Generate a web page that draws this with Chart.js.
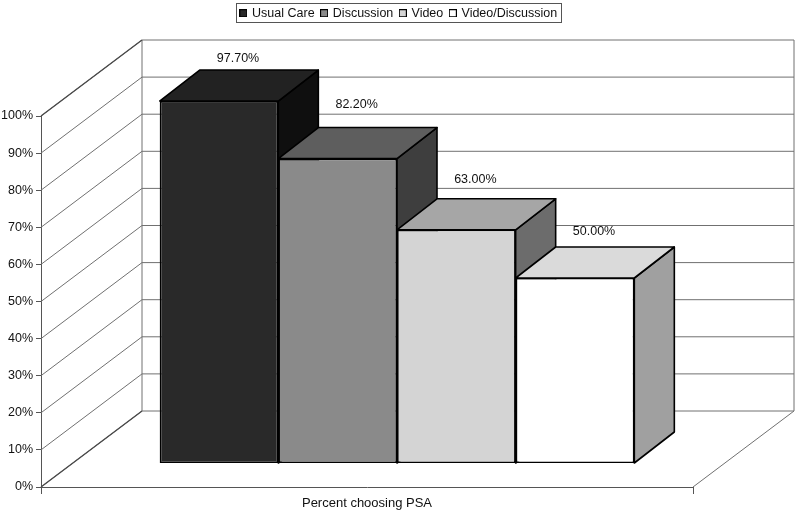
<!DOCTYPE html>
<html>
<head>
<meta charset="utf-8">
<style>html,body{margin:0;padding:0;background:#fff}canvas{display:block}</style>
<script src="https://cdn.jsdelivr.net/npm/chart.js@4/dist/chart.umd.min.js"></script>
</head>
<body>
<canvas id="c" width="796" height="513"></canvas>
<script>
const categories = ['Percent choosing PSA'];
const seriesNames = ['Usual Care', 'Discussion', 'Video', 'Video/Discussion'];
const usualCare = [97.7];
const discussion = [82.2];
const video = [63.0];
const videoDiscussion = [50.0];
const frontColors = ['#292929', '#8a8a8a', '#d4d4d4', '#ffffff'];
const topColors = ['#222222', '#5e5e5e', '#a6a6a6', '#dadada'];
const sideColors = ['#0f0f0f', '#3e3e3e', '#6c6c6c', '#a0a0a0'];
const labelLift = [42, 54, 50, 46];

const FONT = '"Liberation Sans", Arial, sans-serif';
const WALL = {dx: 101, dy: 76};
const BAR_OFFSET = {dx: 30, dy: 23.5};
const BAR_DEPTH = {dx: 40, dy: 31};

function swatch(color) {
  const s = document.createElement('canvas');
  s.width = 8; s.height = 8;
  const g = s.getContext('2d');
  g.fillStyle = color;
  g.fillRect(0, 0, 8, 8);
  g.strokeStyle = '#000';
  g.lineWidth = 1;
  g.strokeRect(0.5, 0.5, 7, 7);
  return s;
}

const scene = {
  id: 'scene',
  afterLayout(chart) {
    const lg = chart.legend;
    const shift = (chart.width - (lg.left + lg.right)) / 2 + 1;
    lg.left += shift;
    lg.right += shift;
    lg.top = 0;
    lg.bottom = lg.height;
  },
  beforeDatasetsDraw(chart) {
    const {ctx, chartArea: a, scales: {y}} = chart;
    ctx.save();
    ctx.strokeStyle = '#707070';
    ctx.lineWidth = 1;
    y.ticks.forEach(t => {
      const p = y.getPixelForValue(t.value);
      ctx.beginPath();
      ctx.moveTo(a.left, p);
      ctx.lineTo(a.left + WALL.dx, p - WALL.dy);
      ctx.lineTo(a.right + WALL.dx, p - WALL.dy);
      ctx.stroke();
    });
    const bottom = y.getPixelForValue(0), top = y.getPixelForValue(100);
    ctx.beginPath();
    ctx.moveTo(a.left + WALL.dx, top - WALL.dy);
    ctx.lineTo(a.left + WALL.dx, bottom - WALL.dy);
    ctx.moveTo(a.right + WALL.dx, top - WALL.dy);
    ctx.lineTo(a.right + WALL.dx, bottom - WALL.dy);
    ctx.lineTo(a.right, bottom);
    ctx.stroke();
    ctx.strokeStyle = '#4a4a4a';
    ctx.lineWidth = 1.3;
    [0, 100].forEach(v => {
      const p = y.getPixelForValue(v);
      ctx.beginPath();
      ctx.moveTo(a.left, p);
      ctx.lineTo(a.left + WALL.dx, p - WALL.dy);
      ctx.stroke();
    });
    ctx.restore();
  },
  beforeDatasetDraw() { return false; },
  afterDatasetsDraw(chart) {
    const {ctx} = chart;
    chart.data.datasets.forEach((ds, i) => {
      chart.getDatasetMeta(i).data.forEach(bar => {
        const {x, y, base, width} = bar.getProps(['x', 'y', 'base', 'width'], true);
        const l = x - width / 2, r = x + width / 2;
        ctx.save();
        ctx.translate(BAR_OFFSET.dx, -BAR_OFFSET.dy);
        ctx.strokeStyle = '#000';
        ctx.lineWidth = 1.6;
        ctx.lineJoin = 'round';
        ctx.fillStyle = sideColors[i];
        ctx.beginPath();
        ctx.moveTo(r, y);
        ctx.lineTo(r + BAR_DEPTH.dx, y - BAR_DEPTH.dy);
        ctx.lineTo(r + BAR_DEPTH.dx, base - BAR_DEPTH.dy);
        ctx.lineTo(r, base);
        ctx.closePath();
        ctx.fill();
        ctx.stroke();
        ctx.fillStyle = topColors[i];
        ctx.beginPath();
        ctx.moveTo(l, y);
        ctx.lineTo(l + BAR_DEPTH.dx, y - BAR_DEPTH.dy);
        ctx.lineTo(r + BAR_DEPTH.dx, y - BAR_DEPTH.dy);
        ctx.lineTo(r, y);
        ctx.closePath();
        ctx.fill();
        ctx.stroke();
        bar.draw(ctx);
        ctx.restore();
      });
    });
    chart.data.datasets.forEach((ds, i) => {
      chart.getDatasetMeta(i).data.forEach((bar, j) => {
        const {x, y} = bar.getProps(['x', 'y'], true);
        ctx.save();
        ctx.fillStyle = '#111';
        ctx.font = '12.5px ' + FONT;
        ctx.textAlign = 'center';
        ctx.textBaseline = 'middle';
        ctx.fillText(ds.data[j].toFixed(2) + '%', x + BAR_OFFSET.dx + 19, y - BAR_OFFSET.dy - labelLift[i]);
        ctx.restore();
      });
    });
  },
  afterDraw(chart) {
    const {ctx} = chart;
    ctx.save();
    ctx.strokeStyle = '#555';
    ctx.lineWidth = 1;
    ctx.strokeRect(236.5, 3.5, 325, 19);
    ctx.restore();
  }
};

const seriesValues = [usualCare, discussion, video, videoDiscussion];
new Chart(document.getElementById('c'), {
  type: 'bar',
  data: {
    labels: categories,
    datasets: seriesNames.map((name, i) => ({
      label: name,
      data: seriesValues[i],
      backgroundColor: frontColors[i],
      borderColor: '#000',
      borderWidth: 1.6,
      borderSkipped: false
    }))
  },
  options: {
    responsive: false,
    animation: false,
    layout: {padding: {top: 86.5, right: 103, left: 0, bottom: 0}},
    datasets: {bar: {categoryPercentage: 0.728, barPercentage: 1}},
    plugins: {
      tooltip: {enabled: false},
      title: {display: false},
      legend: {
        display: true,
        position: 'top',
        labels: {
          usePointStyle: true,
          pointStyleWidth: 5,
          boxHeight: 8,
          padding: 7,
          color: '#111',
          font: {family: FONT, size: 12.5},
          generateLabels(chart) {
            return chart.data.datasets.map((d, i) => ({
              text: d.label,
              pointStyle: swatch(frontColors[i]),
              fillStyle: frontColors[i],
              strokeStyle: '#000',
              lineWidth: 1,
              datasetIndex: i,
              fontColor: '#111'
            }));
          }
        }
      }
    },
    scales: {
      x: {
        afterFit(s) { s.height = 26; },
        grid: {drawOnChartArea: false, drawTicks: true, tickLength: 7, color: '#555', offset: true},
        border: {display: true, color: '#555', width: 1},
        ticks: {color: '#111', font: {family: FONT, size: 13}, padding: 2, maxRotation: 0}
      },
      y: {
        min: 0,
        max: 100,
        afterFit(s) { s.width = 41; },
        grid: {drawOnChartArea: false, drawTicks: true, tickLength: 5, color: '#555'},
        border: {display: true, color: '#555', width: 1},
        ticks: {
          stepSize: 10,
          color: '#111',
          padding: 3,
          font: {family: FONT, size: 12.5},
          callback: v => v + '%'
        }
      }
    }
  },
  plugins: [scene]
});
</script>
</body>
</html>
